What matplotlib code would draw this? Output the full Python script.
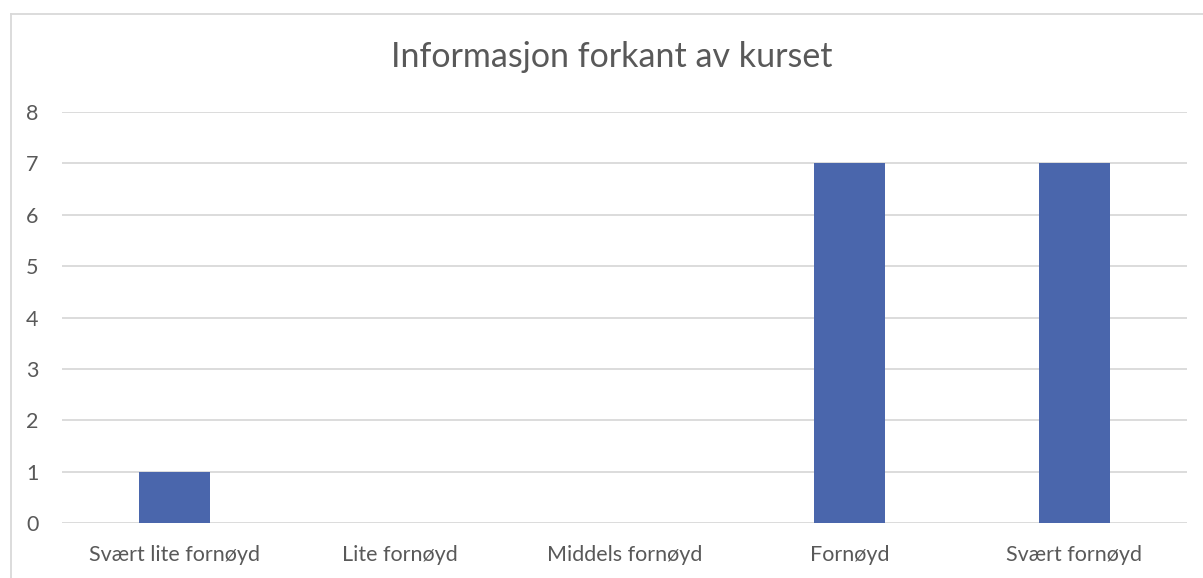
import matplotlib.pyplot as plt
from matplotlib.lines import Line2D

categories = ["Svært lite fornøyd", "Lite fornøyd", "Middels fornøyd", "Fornøyd", "Svært fornøyd"]
values = [1, 0, 0, 7, 7]
yticks = [0, 1, 2, 3, 4, 5, 6, 7, 8]
title = "Informasjon forkant av kurset"

plt.rcParams['font.family'] = ['Lato', 'DejaVu Sans']

W, H = 1203, 578
fig = plt.figure(figsize=(W/100, H/100), dpi=100)

# chart-area border: only top and left visible in the source
bx, by = 10.5/W, 1 - 13.5/H
fig.add_artist(Line2D([bx, 1.0], [by, by], transform=fig.transFigure, color='#D9D9D9', lw=1.3))
fig.add_artist(Line2D([bx, bx], [0, by], transform=fig.transFigure, color='#D9D9D9', lw=1.3))

ax = fig.add_axes([62/W, 1 - 523/H, (1187-62)/W, (523-112)/H])

x = list(range(len(categories)))
ax.bar(x, values, width=0.315, color='#4A66AC', zorder=3)

ax.set_xlim(-0.5, len(categories) - 0.5)
ax.set_ylim(0, 8)
ax.set_yticks(yticks)
ax.set_xticks(x)
ax.set_xticklabels(categories)
ax.grid(axis='y', color='#D9D9D9', linewidth=1.3, zorder=0)
for s in ax.spines.values():
    s.set_visible(False)
ax.tick_params(length=0, labelsize=15.5, labelcolor='#595959')
ax.tick_params(axis='y', pad=17)
ax.tick_params(axis='x', pad=16)
for lbl in ax.get_yticklabels():
    lbl.set_horizontalalignment('right')

fig.text(612/W, 1 - 57/H, title, ha='center', va='center', fontsize=24.5, color='#595959')

fig.savefig('out.png', dpi=100)
